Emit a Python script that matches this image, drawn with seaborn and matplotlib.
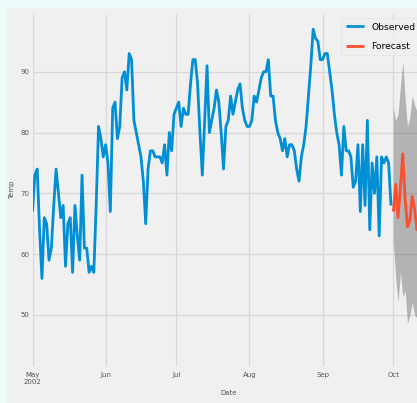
import pandas as pd
import matplotlib
matplotlib.use('Agg')
import matplotlib.pyplot as plt
import seaborn as sns
from matplotlib.patches import Rectangle

# daily temps, May 1 - Sep 30 2002
observed_temp = [67, 73, 74, 64, 56, 66, 65, 59, 61, 68,
                 74, 70, 66, 68, 58, 65, 66, 57, 68, 63,
                 59, 73, 61, 61, 57, 58, 57, 68, 81, 79,
                 76, 78, 75, 67, 84, 85, 79, 81, 89, 90,
                 87, 93, 92, 82, 80, 78, 76, 72, 65, 74,
                 77, 77, 76, 76, 76, 75, 78, 73, 80, 77,
                 83, 84, 85, 81, 84, 83, 83, 88, 92, 92,
                 88, 80, 73, 82, 91, 80, 82, 84, 87, 85,
                 80, 74, 81, 82, 86, 83, 85, 87, 88, 84,
                 82, 81, 81, 82, 86, 85, 87, 89, 90, 90,
                 92, 86, 86, 82, 80, 79, 77, 79, 76, 78,
                 78, 77, 74, 72, 76, 78, 81, 86, 91, 97,
                 95.5, 95, 92, 92, 93, 93, 90, 87, 83, 80,
                 78, 73, 81, 77, 77, 76, 71, 72, 78, 67,
                 78, 68, 82, 64, 75, 70, 76, 63, 76, 75,
                 76, 75, 68]

# forecast from Oct 1 2002 with confidence band
forecast_temp = [67, 71.5, 66, 71, 76.5, 69, 64.5, 65.5, 69.5, 67.5, 64, 66, 68, 66]
forecast_upper = [84, 82, 83, 87.5, 91.7, 85.5, 81, 82.5, 86, 84.5, 83.5, 84, 86, 84]
forecast_lower = [62, 56, 52, 57, 53, 54, 48.5, 50, 52, 50, 49.5, 51, 52, 50]

month_ticks = ['2002-05-01', '2002-06-01', '2002-07-01', '2002-08-01', '2002-09-01', '2002-10-01']
month_labels = ['May\n2002', 'Jun', 'Jul', 'Aug', 'Sep', 'Oct']
temp_ticks = [50, 60, 70, 80, 90]

obs = pd.DataFrame({'Date': pd.date_range('2002-05-01', periods=len(observed_temp), freq='D'),
                    'Temp': observed_temp})
fc = pd.DataFrame({'Date': pd.date_range('2002-10-01', periods=len(forecast_temp), freq='D'),
                   'Temp': forecast_temp, 'lower': forecast_lower, 'upper': forecast_upper})

plt.style.use('fivethirtyeight')
plt.rcParams['font.family'] = ['DejaVu Sans']

fig = plt.figure(figsize=(4.17, 4.03), dpi=100, facecolor='#eefbfb')
fig.add_artist(Rectangle((7/417, 0), 1, 395/403, transform=fig.transFigure,
                         facecolor='#f0f0f0', edgecolor='none', zorder=-1))
ax = fig.add_axes([32.5/417, 37/403, 391.5/417, 352/403])
ax.set_facecolor('#f0f0f0')

ax.fill_between(fc['Date'], fc['lower'], fc['upper'], color='k', alpha=.25, linewidth=0, zorder=1)
sns.lineplot(data=obs, x='Date', y='Temp', ax=ax, color='#008fd5', linewidth=2.0, label='Observed', zorder=2)
sns.lineplot(data=fc, x='Date', y='Temp', ax=ax, color='#fc4f30', linewidth=2.0, label='Forecast', zorder=2)

ax.set_xlim(pd.Timestamp('2002-05-01'), pd.Timestamp('2002-10-14'))
ax.set_ylim(41.6, 99.5)
ax.set_xticks(pd.to_datetime(month_ticks))
ax.set_xticklabels(month_labels)
ax.set_yticks(temp_ticks)
ax.grid(True, color='#d8d8d8', linewidth=0.9)
ax.tick_params(axis='both', labelsize=5, colors='#555555', length=0)
ax.tick_params(axis='x', pad=4)
ax.tick_params(axis='y', pad=2)
for s in ax.spines.values():
    s.set_visible(False)

ax.set_xlabel('Date', fontsize=5, color='#555555')
ax.set_ylabel('Temp', fontsize=5, color='#555555')

ax.legend(loc='upper right', fontsize=6.6, labelspacing=1.1, handlelength=2.0,
          borderpad=0.5, frameon=True, facecolor='#f0f0f0', edgecolor='#e2e2e2',
          fancybox=True, borderaxespad=0.45)

fig.savefig('out.png', dpi=100, facecolor=fig.get_facecolor())
